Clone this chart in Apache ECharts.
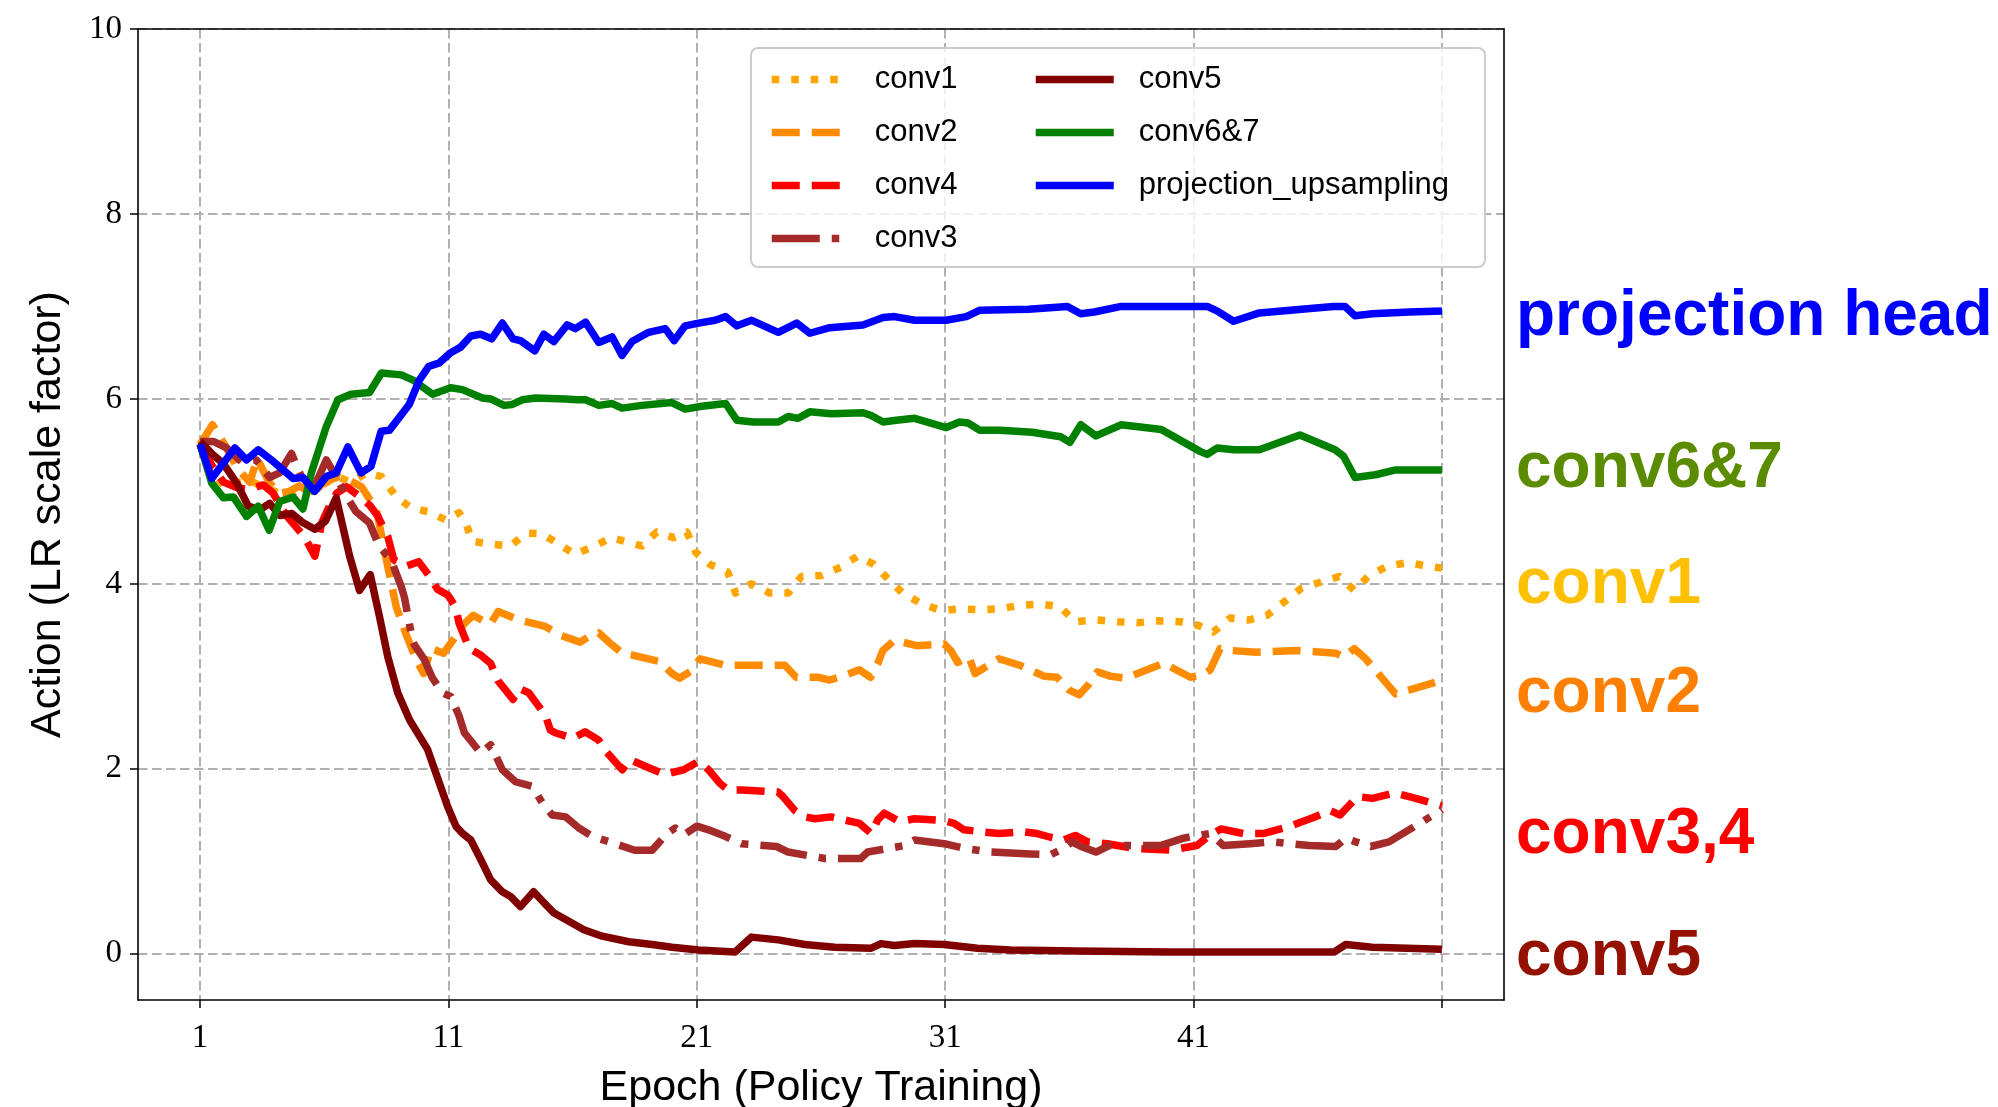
<!DOCTYPE html>
<html>
<head>
<meta charset="utf-8">
<script src="https://cdn.jsdelivr.net/npm/echarts@6/dist/echarts.min.js"></script>
<style>
  html, body { margin: 0; padding: 0; background: #fff; }
  #chart { width: 1998px; height: 1107px; }
</style>
</head>
<body>
<div id="chart"></div>
<script>
// Per-layer learning-rate scale factor chosen by the policy, as [epoch, value] pairs.
const conv1 = [[1,5.5],[1.5,5.2],[2,5.05],[2.6,5.1],[3,5.12],[3.5,5.05],[4,5.0],[4.5,4.95],[5,5.03],[5.5,5.0],[6,5.08],[6.5,5.16],[7.1,5.1],[7.7,5.2],[8.3,5.16],[8.9,4.94],[9.5,4.82],[10.2,4.78],[10.9,4.69],[11.43,4.77],[11.72,4.64],[11.96,4.46],[12.7,4.43],[13.5,4.41],[14.13,4.55],[14.78,4.54],[15.44,4.43],[16.09,4.32],[16.81,4.4],[17.56,4.5],[18.1,4.46],[18.79,4.41],[19.39,4.56],[20.06,4.5],[20.6,4.56],[20.96,4.34],[21.53,4.21],[22.24,4.13],[22.56,3.9],[23.2,4.0],[23.94,3.9],[24.68,3.9],[25.21,4.08],[26.01,4.09],[26.79,4.18],[27.48,4.3],[28.13,4.21],[28.71,4.05],[29.29,3.9],[30.02,3.79],[30.83,3.71],[31.56,3.73],[32.36,3.72],[33.21,3.73],[34.06,3.77],[34.91,3.78],[35.64,3.75],[36.24,3.59],[37.07,3.61],[37.93,3.59],[38.73,3.58],[39.6,3.6],[40.47,3.59],[41.2,3.55],[41.8,3.48],[42.47,3.63],[43.24,3.61],[43.96,3.66],[44.67,3.81],[45.33,3.95],[46.13,4.02],[46.87,4.08],[47.47,3.93],[48.07,4.09],[48.8,4.19],[49.6,4.23],[50.47,4.19],[51,4.17]];

const conv2 = [[1,5.51],[1.5,5.72],[2,5.5],[2.5,5.25],[3,5.1],[3.3,5.35],[3.8,5.09],[4.2,4.98],[4.6,5.0],[5.0,5.06],[5.5,4.97],[6,5.1],[6.6,5.16],[7,5.12],[7.5,5.05],[8.1,4.8],[8.5,4.26],[8.9,3.75],[9.3,3.45],[9.7,3.18],[10.0,3.03],[10.3,3.3],[10.8,3.25],[11.1,3.36],[11.6,3.56],[12.0,3.66],[12.4,3.6],[12.7,3.57],[13.0,3.7],[13.84,3.61],[14.9,3.54],[15.45,3.45],[16.3,3.37],[16.6,3.42],[17.05,3.47],[17.5,3.36],[18.0,3.25],[18.4,3.23],[19.5,3.16],[20.0,3.03],[20.3,2.98],[20.73,3.05],[21.13,3.19],[22.14,3.12],[23.8,3.12],[24.54,3.12],[25.0,2.99],[25.88,2.99],[26.35,2.96],[26.95,3.01],[27.55,3.07],[28.0,2.99],[28.29,3.14],[28.49,3.28],[28.95,3.39],[29.9,3.33],[30.96,3.35],[31.25,3.27],[31.5,3.15],[31.96,3.21],[32.2,3.03],[33.16,3.19],[34.0,3.12],[35.0,3.0],[35.5,2.99],[36.0,2.85],[36.4,2.8],[36.8,2.92],[37.13,3.05],[37.67,3.0],[38.27,2.98],[39.13,3.07],[39.8,3.14],[40.87,2.99],[41.33,3.01],[41.67,3.07],[42.07,3.3],[42.47,3.28],[43.53,3.26],[45.13,3.28],[46.73,3.25],[47.07,3.21],[47.47,3.3],[47.93,3.19],[49.13,2.81],[49.67,2.85],[50.8,2.94],[51,2.97]];

const conv4 = [[1,5.52],[1.5,5.27],[1.94,5.1],[2.5,5.04],[2.94,5.02],[3.54,5.07],[3.94,4.98],[4.5,4.73],[5.2,4.51],[5.62,4.3],[5.9,4.66],[6.2,4.84],[6.5,4.98],[6.9,5.05],[7.4,4.95],[7.83,4.85],[8.16,4.73],[8.56,4.51],[8.8,4.26],[9.3,4.19],[9.8,4.24],[10.3,4.06],[10.56,3.94],[10.97,3.88],[11.1,3.83],[11.3,3.74],[11.43,3.57],[11.84,3.3],[12.3,3.23],[12.7,3.14],[13.0,2.95],[13.6,2.75],[13.85,2.87],[14.24,2.82],[14.9,2.58],[15.1,2.42],[15.3,2.39],[16.0,2.33],[16.5,2.4],[17.05,2.31],[17.3,2.2],[18.0,1.99],[18.3,2.1],[18.9,2.03],[19.7,1.94],[20.47,1.99],[21.07,2.08],[21.47,1.99],[21.94,1.84],[22.27,1.77],[22.8,1.77],[24.27,1.75],[24.47,1.7],[24.94,1.55],[25.35,1.48],[25.75,1.46],[26.41,1.48],[27.55,1.41],[28.02,1.3],[28.29,1.45],[28.55,1.52],[29.16,1.43],[29.76,1.46],[30.96,1.44],[31.36,1.41],[31.76,1.34],[32.43,1.32],[33.17,1.3],[34.1,1.32],[34.7,1.3],[35.24,1.26],[35.77,1.23],[36.24,1.28],[36.73,1.21],[37.53,1.19],[38.6,1.14],[40.07,1.12],[41.13,1.17],[41.6,1.27],[42.1,1.35],[43.0,1.3],[43.8,1.3],[44.9,1.38],[45.8,1.47],[46.5,1.55],[46.9,1.5],[47.6,1.7],[48.2,1.68],[49.1,1.74],[49.8,1.69],[51,1.6]];

const conv3 = [[1,5.54],[1.53,5.54],[2.07,5.47],[2.67,5.32],[3.27,5.34],[3.8,5.15],[4.2,5.2],[4.68,5.41],[5.14,5.12],[5.6,5.05],[6.08,5.34],[6.5,5.15],[6.82,4.98],[7.28,4.78],[7.82,4.66],[8.22,4.4],[8.69,4.26],[9.1,3.97],[9.23,3.85],[9.56,3.38],[9.63,3.34],[10.03,3.18],[10.36,2.98],[10.77,2.82],[11.1,2.78],[11.43,2.57],[11.64,2.39],[12.3,2.17],[12.7,2.26],[13.17,1.99],[13.7,1.86],[14.38,1.81],[14.78,1.63],[15.18,1.5],[15.72,1.48],[16.25,1.36],[16.79,1.27],[17.6,1.2],[18.5,1.12],[19.2,1.12],[19.8,1.3],[20.13,1.36],[20.5,1.29],[21.0,1.38],[21.47,1.34],[22.14,1.27],[22.8,1.19],[24.21,1.16],[24.68,1.1],[26.15,1.03],[27.6,1.03],[27.88,1.1],[29.36,1.17],[29.76,1.23],[30.96,1.19],[31.76,1.14],[32.83,1.1],[34.43,1.08],[35.24,1.07],[35.77,1.14],[36.1,1.21],[36.47,1.16],[37.07,1.1],[37.6,1.17],[38.87,1.17],[39.67,1.17],[40.6,1.25],[41.0,1.27],[41.67,1.3],[42.2,1.17],[43.27,1.19],[44.2,1.21],[44.87,1.19],[45.67,1.17],[46.73,1.16],[47.13,1.25],[47.53,1.21],[48.13,1.16],[48.87,1.21],[49.67,1.34],[50.53,1.48],[51,1.56]];

const conv5 = [[1,5.54],[1.5,5.4],[1.94,5.3],[2.47,5.09],[2.94,4.84],[3.4,4.8],[3.8,4.87],[4.21,4.74],[4.7,4.76],[5.15,4.66],[5.62,4.59],[6.05,4.68],[6.48,4.93],[7.02,4.3],[7.42,3.93],[7.85,4.1],[8.22,3.65],[8.56,3.21],[8.96,2.82],[9.43,2.53],[10.16,2.21],[10.5,1.95],[10.97,1.59],[11.3,1.38],[11.57,1.3],[11.9,1.23],[12.3,1.02],[12.7,0.8],[13.17,0.67],[13.5,0.62],[13.9,0.51],[14.43,0.67],[14.78,0.57],[15.25,0.44],[15.72,0.37],[16.45,0.26],[17.19,0.19],[18.26,0.13],[19.2,0.1],[20.0,0.07],[21.07,0.04],[22.54,0.02],[23.2,0.18],[24.28,0.15],[25.35,0.1],[26.55,0.07],[28.02,0.06],[28.42,0.11],[28.95,0.09],[29.76,0.11],[30.96,0.1],[32.3,0.06],[33.63,0.04],[36.3,0.03],[40,0.02],[46.67,0.02],[47.13,0.1],[48.2,0.07],[51,0.05]];

const conv67 = [[1,5.51],[1.47,5.09],[1.94,4.93],[2.34,4.94],[2.87,4.73],[3.34,4.84],[3.78,4.58],[4.21,4.89],[4.74,4.94],[5.14,4.81],[5.48,5.2],[6.08,5.7],[6.55,5.99],[7.08,6.05],[7.82,6.07],[8.3,6.28],[9.1,6.26],[9.6,6.2],[10.36,6.05],[11.09,6.12],[11.56,6.1],[12.37,6.01],[12.7,6.0],[13.24,5.93],[13.57,5.94],[13.97,5.99],[14.51,6.01],[15.71,6.0],[16.18,5.99],[16.52,5.99],[17.05,5.93],[17.59,5.95],[17.99,5.9],[18.79,5.93],[19.99,5.96],[20.53,5.89],[21.2,5.92],[22.16,5.95],[22.61,5.77],[23.27,5.75],[24.28,5.75],[24.68,5.81],[25.08,5.79],[25.55,5.86],[26.42,5.84],[27.69,5.85],[28.02,5.82],[28.5,5.75],[29.03,5.77],[29.77,5.79],[31.04,5.69],[31.58,5.75],[31.92,5.74],[32.4,5.66],[33.2,5.66],[34.5,5.64],[35.65,5.59],[36.02,5.53],[36.46,5.72],[37.07,5.6],[38.09,5.72],[39.7,5.67],[41.28,5.43],[41.55,5.4],[41.96,5.47],[42.63,5.45],[43.65,5.45],[45.28,5.61],[46.7,5.45],[47.04,5.38],[47.5,5.15],[48.32,5.18],[49.1,5.23],[51,5.23]];

const projUp = [[1,5.51],[1.47,5.14],[2.4,5.47],[2.87,5.34],[3.34,5.45],[3.87,5.34],[4.74,5.14],[5.14,5.15],[5.61,5.0],[6.08,5.16],[6.48,5.2],[6.95,5.48],[7.48,5.2],[7.88,5.27],[8.29,5.65],[8.62,5.66],[9.42,5.94],[9.82,6.2],[10.2,6.35],[10.63,6.39],[11.09,6.5],[11.49,6.56],[11.9,6.68],[12.3,6.7],[12.74,6.65],[13.17,6.82],[13.6,6.65],[13.9,6.63],[14.48,6.52],[14.84,6.7],[15.24,6.62],[15.78,6.8],[16.11,6.76],[16.52,6.83],[17.05,6.61],[17.59,6.67],[17.99,6.47],[18.39,6.62],[19.06,6.72],[19.73,6.76],[20.09,6.63],[20.53,6.79],[21.07,6.82],[21.74,6.85],[22.16,6.89],[22.61,6.79],[23.21,6.85],[24.28,6.72],[25.02,6.82],[25.55,6.71],[26.35,6.77],[27.69,6.8],[28.5,6.88],[28.96,6.89],[29.77,6.85],[31.04,6.85],[31.85,6.89],[32.4,6.96],[34.36,6.97],[35.92,7.0],[36.46,6.92],[37.0,6.94],[38.09,7.0],[41.55,7.0],[41.96,6.95],[42.61,6.84],[43.65,6.93],[45.35,6.97],[46.63,7.0],[47.1,7.0],[47.5,6.9],[48.2,6.92],[49.7,6.94],[51,6.95]];

// Axis ticks
const xTicks = [1, 11, 21, 31, 41, 51];
const xTickLabels = [1, 11, 21, 31, 41];
const yTicks = [0, 2, 4, 6, 8, 10];

// Group labels written to the right of the plot
const groupLabels = [
  { text: 'projection head', color: '#0000FF', y: 317 },
  { text: 'conv6&7', color: '#5B8C00', y: 469 },
  { text: 'conv1', color: '#FFC000', y: 585 },
  { text: 'conv2', color: '#FF8000', y: 694 },
  { text: 'conv3,4', color: '#FF0000', y: 835 },
  { text: 'conv5', color: '#941100', y: 957 }
];

const LW = 7.5;
const DOTTED = [LW, 12];
const DASHED = [28, 12];
const DASHDOT = [48, 12, LW, 12];

function lineSeries(name, data, color, dash) {
  return {
    name: name,
    type: 'line',
    data: data,
    symbol: 'none',
    showSymbol: false,
    silent: true,
    itemStyle: { color: color },
    lineStyle: { color: color, width: LW, type: dash, cap: 'butt', join: 'round' },
    z: 2
  };
}

const sansFont = '"Liberation Sans", Arial, sans-serif';
const serifFont = '"Liberation Serif", "Times New Roman", serif';

const legendCommon = {
  orient: 'vertical',
  top: 64,
  itemWidth: 78,
  itemHeight: 16,
  itemGap: 22,
  padding: 0,
  selectedMode: false,
  itemStyle: { opacity: 0 },
  lineStyle: { width: LW },
  textStyle: { fontFamily: sansFont, fontSize: 31, color: '#000', lineHeight: 30, padding: [0, 0, 0, 20] },
  z: 5
};

// Plain frame axes that close the plot box on the top and right
const frameLine = { show: true, onZero: false, lineStyle: { color: '#000', width: 1.6 } };

const chart = echarts.init(document.getElementById('chart'), null, { renderer: 'canvas' });
chart.setOption({
  animation: false,
  backgroundColor: '#fff',
  grid: { left: 138, right: 494, top: 29, bottom: 107, containLabel: false, outerBoundsMode: 'none' },
  xAxis: [{
    type: 'value',
    min: -1.5, max: 53.5,
    name: 'Epoch (Policy Training)',
    nameLocation: 'middle',
    nameGap: 67,
    nameTextStyle: { fontFamily: sansFont, fontSize: 43, color: '#000' },
    axisLine: frameLine,
    axisTick: { show: true, length: 8, lineStyle: { color: '#000', width: 1.5 }, customValues: xTicks },
    axisLabel: { customValues: xTickLabels, fontFamily: serifFont, fontSize: 33, color: '#000', margin: 22 },
    splitLine: { show: true, lineStyle: { color: '#b0b0b0', width: 2, type: [9.5, 4.5] } }
  }, {
    type: 'value', position: 'top', min: -1.5, max: 53.5, z: 6,
    axisLine: frameLine, axisTick: { show: false }, axisLabel: { show: false }, splitLine: { show: false }
  }],
  yAxis: [{
    type: 'value',
    min: -0.5, max: 10,
    name: 'Action (LR scale factor)',
    nameLocation: 'middle',
    nameGap: 68,
    nameTextStyle: { fontFamily: sansFont, fontSize: 43, color: '#000' },
    axisLine: frameLine,
    axisTick: { show: true, length: 8, lineStyle: { color: '#000', width: 1.5 }, customValues: yTicks },
    axisLabel: { customValues: yTicks, fontFamily: serifFont, fontSize: 33, color: '#000', margin: 16 },
    splitLine: { show: true, lineStyle: { color: '#b0b0b0', width: 2, type: [9.5, 4.5] } }
  }, {
    type: 'value', position: 'right', min: -0.5, max: 10, z: 6,
    axisLine: frameLine, axisTick: { show: false }, axisLabel: { show: false }, splitLine: { show: false }
  }],
  legend: [
    Object.assign({}, legendCommon, { left: 768, data: ['conv1', 'conv2', 'conv4', 'conv3'] }),
    Object.assign({}, legendCommon, { left: 1032, data: ['conv5', 'conv6&7', 'projection_upsampling'] })
  ],
  graphic: {
    elements: [
      {
        type: 'rect', z: 4, silent: true,
        shape: { x: 751, y: 48, width: 734, height: 219, r: 7 },
        style: { fill: 'rgba(255,255,255,0.8)', stroke: '#cccccc', lineWidth: 2 }
      }
    ].concat(groupLabels.map(function (g) {
      return {
        type: 'text', z: 6, silent: true,
        x: 1516, y: g.y,
        style: {
          text: g.text, fill: g.color,
          font: 'bold 64px ' + sansFont,
          align: 'left', verticalAlign: 'middle'
        }
      };
    }))
  },
  series: [
    lineSeries('conv1', conv1, '#FFA500', DOTTED),
    lineSeries('conv2', conv2, '#FF8C00', DASHED),
    lineSeries('conv4', conv4, '#FF0000', DASHED),
    lineSeries('conv3', conv3, '#A52A2A', DASHDOT),
    lineSeries('conv5', conv5, '#800000', 'solid'),
    lineSeries('conv6&7', conv67, '#008000', 'solid'),
    lineSeries('projection_upsampling', projUp, '#0000FF', 'solid')
  ]
});
</script>
</body>
</html>
